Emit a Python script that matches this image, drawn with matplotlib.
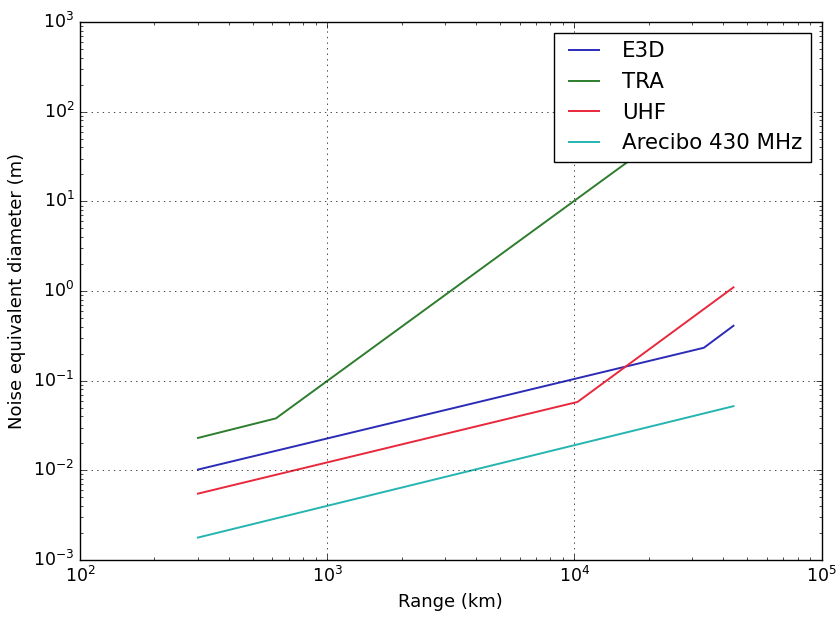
import matplotlib
matplotlib.use('Agg')
import matplotlib.pyplot as plt

# 各雷达的噪声等效直径
e3d_range = [300, 33400, 44000]
e3d_diam = [0.0102, 0.233, 0.41]

tra_range = [300, 620, 44000]
tra_diam = [0.023, 0.038, 200.0]

uhf_range = [300, 10300, 44000]
uhf_diam = [0.0055, 0.058, 1.1]

arecibo_range = [300, 44000]
arecibo_diam = [0.00178, 0.052]

plt.style.use('classic')
fig = plt.figure(figsize=(8.37, 6.19), dpi=100, facecolor='white')
ax = fig.add_axes([0.0956, 0.0953, 0.886, 0.869])

ax.loglog(e3d_range, e3d_diam, color='#2b2bb8', lw=1.4, label='E3D')
ax.loglog(tra_range, tra_diam, color='#2e7d2e', lw=1.4, label='TRA')
ax.loglog(uhf_range, uhf_diam, color='#e8283c', lw=1.4, label='UHF')
ax.loglog(arecibo_range, arecibo_diam, color='#25b5b0', lw=1.4, label='Arecibo 430 MHz')

ax.set_xlim(1e2, 1e5)
ax.set_ylim(1e-3, 1e3)
ax.grid(True)
ax.tick_params(labelsize=12.5)
ax.set_xlabel('Range (km)', fontsize=13)
ax.set_ylabel('Noise equivalent diameter (m)', fontsize=13)
ax.legend(loc='upper right', fontsize=15.4, handlelength=2.0)

plt.savefig('out.png', dpi=100, facecolor='white')
